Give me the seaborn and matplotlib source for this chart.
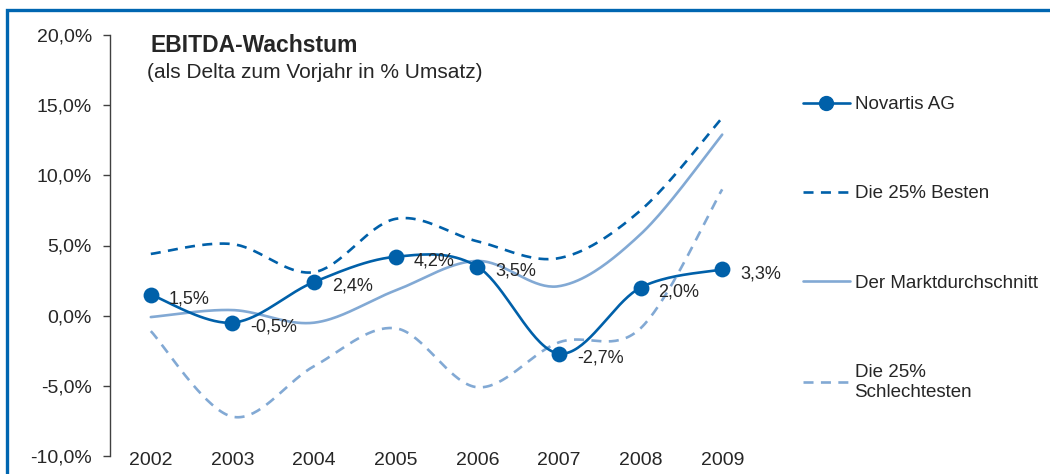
import numpy as np
import pandas as pd
import matplotlib
matplotlib.use("Agg")
import matplotlib.pyplot as plt
from matplotlib.lines import Line2D
from matplotlib.ticker import FuncFormatter
import seaborn as sns

years = ["2002", "2003", "2004", "2005", "2006", "2007", "2008", "2009"]
novartis = [1.5, -0.5, 2.4, 4.2, 3.5, -2.7, 2.0, 3.3]
best25 = [4.4, 5.1, 3.1, 6.9, 5.3, 4.1, 7.5, 14.1]
market = [-0.1, 0.4, -0.5, 1.8, 3.9, 2.1, 5.8, 12.9]
worst25 = [-1.1, -7.2, -3.6, -0.9, -5.1, -1.9, -0.9, 9.0]
series_names = ["Novartis AG", "Die 25% Besten", "Der Marktdurchschnitt", "Die 25%\nSchlechtesten"]
title = "EBITDA-Wachstum"
subtitle = "(als Delta zum Vorjahr in % Umsatz)"

DARK = "#0060A9"
LIGHT = "#82A9D4"
TXT = "#262626"

sns.set_theme(style="white")
plt.rcParams["font.family"] = ["Liberation Sans", "DejaVu Sans"]


def smooth(y, n=40):
    """Catmull-Rom style smoothing (as Excel smoothed lines) for rendering."""
    y = np.asarray(y, float)
    x = np.arange(len(y), dtype=float)
    px = np.concatenate([[x[0]], x, [x[-1]]])
    py = np.concatenate([[y[0]], y, [y[-1]]])
    xs, ys = [], []
    t = np.linspace(0, 1, n)
    for i in range(len(y) - 1):
        p0x, p1x, p2x, p3x = px[i], px[i + 1], px[i + 2], px[i + 3]
        p0y, p1y, p2y, p3y = py[i], py[i + 1], py[i + 2], py[i + 3]
        c1x = p1x + (p2x - p0x) / 6
        c1y = p1y + (p2y - p0y) / 6
        c2x = p2x - (p3x - p1x) / 6
        c2y = p2y - (p3y - p1y) / 6
        bx = (1 - t) ** 3 * p1x + 3 * (1 - t) ** 2 * t * c1x + 3 * (1 - t) * t ** 2 * c2x + t ** 3 * p2x
        by = (1 - t) ** 3 * p1y + 3 * (1 - t) ** 2 * t * c1y + 3 * (1 - t) * t ** 2 * c2y + t ** 3 * p2y
        xs.append(bx if i == 0 else bx[1:])
        ys.append(by if i == 0 else by[1:])
    return np.concatenate(xs), np.concatenate(ys)


fig = plt.figure(figsize=(10.5, 4.74), dpi=100)
ax = fig.add_axes([110 / 1050, 18 / 474, 653 / 1050, 421 / 474])

DASH = (0, (3.8, 2.8))
styles = [
    (novartis, DARK, "-"),
    (best25, DARK, DASH),
    (market, LIGHT, "-"),
    (worst25, LIGHT, DASH),
]
# draw background series first, Novartis last
for vals, col, ls in styles[::-1]:
    sx, sy = smooth(vals)
    sns.lineplot(x=sx, y=sy, ax=ax, color=col, linewidth=1.9, linestyle=ls,
                 sort=False, estimator=None, legend=False)

xpos = np.arange(len(years))
sns.scatterplot(x=xpos, y=novartis, ax=ax, color=DARK, s=130, edgecolor=DARK,
                linewidth=0, zorder=5, legend=False)
for xi, v in zip(xpos, novartis):
    ax.annotate(f"{v:.1f}%".replace(".", ","), (xi, v), xytext=(13, -3),
                textcoords="offset points", ha="left", va="center",
                fontsize=13, color=TXT)

ax.set_xlim(-0.5, len(years) - 0.5)
ax.set_ylim(-10, 20)
ax.set_yticks([-10, -5, 0, 5, 10, 15, 20])
ax.yaxis.set_major_formatter(FuncFormatter(lambda v, p: f"{v:.1f}%".replace(".", ",")))
ax.set_xticks(xpos)
ax.set_xticklabels(years)
for s in ["top", "right", "bottom"]:
    ax.spines[s].set_visible(False)
ax.spines["left"].set_color("#404040")
ax.spines["left"].set_linewidth(1.0)
ax.tick_params(axis="y", left=True, length=5, width=1.0, color="#404040",
               pad=8, labelsize=14, labelcolor=TXT)
ax.tick_params(axis="x", bottom=False, length=0, pad=-3, labelsize=14, labelcolor=TXT)
ax.set_xlabel("")
ax.set_ylabel("")
ax.grid(False)

fig.text(150 / 1050, 1 - 45 / 474, title, fontsize=16.5,
         fontweight="bold", color=TXT, ha="left", va="center")
fig.text(147 / 1050, 1 - 73 / 474, subtitle, fontsize=15,
         color=TXT, ha="left", va="center")

handles = [
    Line2D([], [], color=DARK, lw=1.9, marker="o", markersize=10),
    Line2D([], [], color=DARK, lw=1.9, linestyle=DASH),
    Line2D([], [], color=LIGHT, lw=1.9),
    Line2D([], [], color=LIGHT, lw=1.9, linestyle=DASH),
]
leg = fig.legend(handles, series_names, loc="upper left",
                 bbox_to_anchor=(803 / 1050, 1 - 96 / 474), frameon=False,
                 fontsize=13.5, labelcolor=TXT, handlelength=2.5,
                 handletextpad=0.25, labelspacing=3.85, borderaxespad=0,
                 borderpad=0)

# blue frame around the figure (top and left visible)
fig.add_artist(Line2D([7 / 1050, 7 / 1050, 1.05], [-0.05, 1 - 10 / 474, 1 - 10 / 474],
                      transform=fig.transFigure, color="#0066B1", linewidth=2.4,
                      solid_capstyle="butt", solid_joinstyle="miter"))

fig.savefig("out.png", dpi=100, facecolor="white")
